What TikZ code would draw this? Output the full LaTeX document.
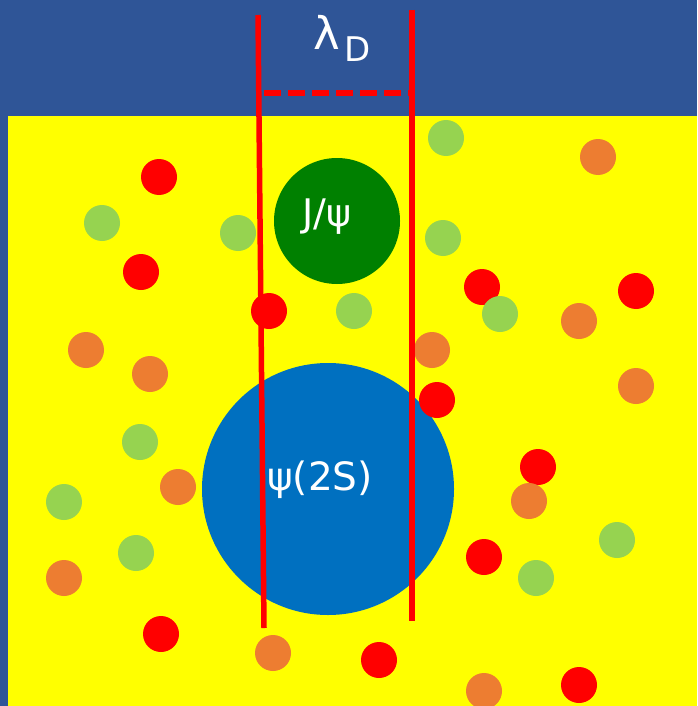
\documentclass[tikz,border=0pt]{standalone}
\usepackage{fontspec}
\setmainfont{DejaVu Sans}
\definecolor{hdrblue}{HTML}{2F5597}
\definecolor{bgyellow}{HTML}{FFFF00}
\definecolor{dotred}{HTML}{FF0000}
\definecolor{dotgreen}{HTML}{96D350}
\definecolor{dotorange}{HTML}{ED7D31}
\definecolor{jpsigreen}{HTML}{008000}
\definecolor{psiblue}{HTML}{0070C0}
\tikzset{
  dotbase/.style={circle, inner sep=0pt, minimum size=36pt, draw=none},
  reddot/.style={dotbase, fill=dotred},
  greendot/.style={dotbase, fill=dotgreen},
  orangedot/.style={dotbase, fill=dotorange},
  bigball/.style={circle, inner sep=0pt, draw=none},
  redline/.style={draw=dotred, line width=5.5pt},
  lbl/.style={text=white, inner sep=0pt}
}
\begin{document}
\begin{tikzpicture}[x=1pt,y=-1pt]
\useasboundingbox (0,0) rectangle (697,706);
\fill[hdrblue] (0,0) rectangle (697,706);
\fill[bgyellow] (8,116) rectangle (697,706);
% big particles
\node[bigball, fill=jpsigreen, minimum size=126pt] (jpsi) at (337,221) {};
\node[bigball, fill=psiblue, minimum size=252pt] (psi2s) at (328,489) {};
% red dots
\foreach \n/\x/\y in {r1/159/177, r2/141/272, r3/269/311, r4/482/287, r5/636/291, r6/437/400, r7/538/467, r8/484/557, r9/161/634, r10/379/660, r11/579/685}
  \node[reddot] (\n) at (\x,\y) {};
% green dots
\foreach \n/\x/\y in {g1/446/138, g2/102/223, g3/238/233, g4/443/238, g5/354/311, g6/500/314, g7/140/442, g8/64/502, g9/136/553, g10/617/540, g11/536/578}
  \node[greendot] (\n) at (\x,\y) {};
% orange dots
\foreach \n/\x/\y in {o1/598/157, o2/86/350, o3/150/374, o4/432/350, o5/579/321, o6/636/386, o7/178/487, o8/529/501, o9/64/578, o10/273/653, o11/484/691}
  \node[orangedot] (\n) at (\x,\y) {};
% labels
\node[lbl, font=\fontsize{38}{42}\selectfont] (jlbl) at (327,217) {J/ψ};
\node[lbl, font=\fontsize{39}{42}\selectfont] (plbl) at (320,480) {ψ(2S)};
\node[lbl, font=\fontsize{45}{48}\selectfont, anchor=base west] (lam) at (313,50) {λ};
\node[lbl, font=\fontsize{34}{36}\selectfont, anchor=base west] (dsub) at (344,62) {D};
% lambda_D lines
\coordinate (lt) at (258,15);
\coordinate (lb) at (264,628);
\coordinate (rt) at (412,10);
\coordinate (rb) at (412,621);
\coordinate (dl) at (264,93);
\coordinate (dr) at (412,93);
\draw[redline] (lt) -- (lb);
\draw[redline] (rt) -- (rb);
\draw[redline, dash pattern=on 17pt off 7pt] (dl) -- (dr);
\end{tikzpicture}
\end{document}
